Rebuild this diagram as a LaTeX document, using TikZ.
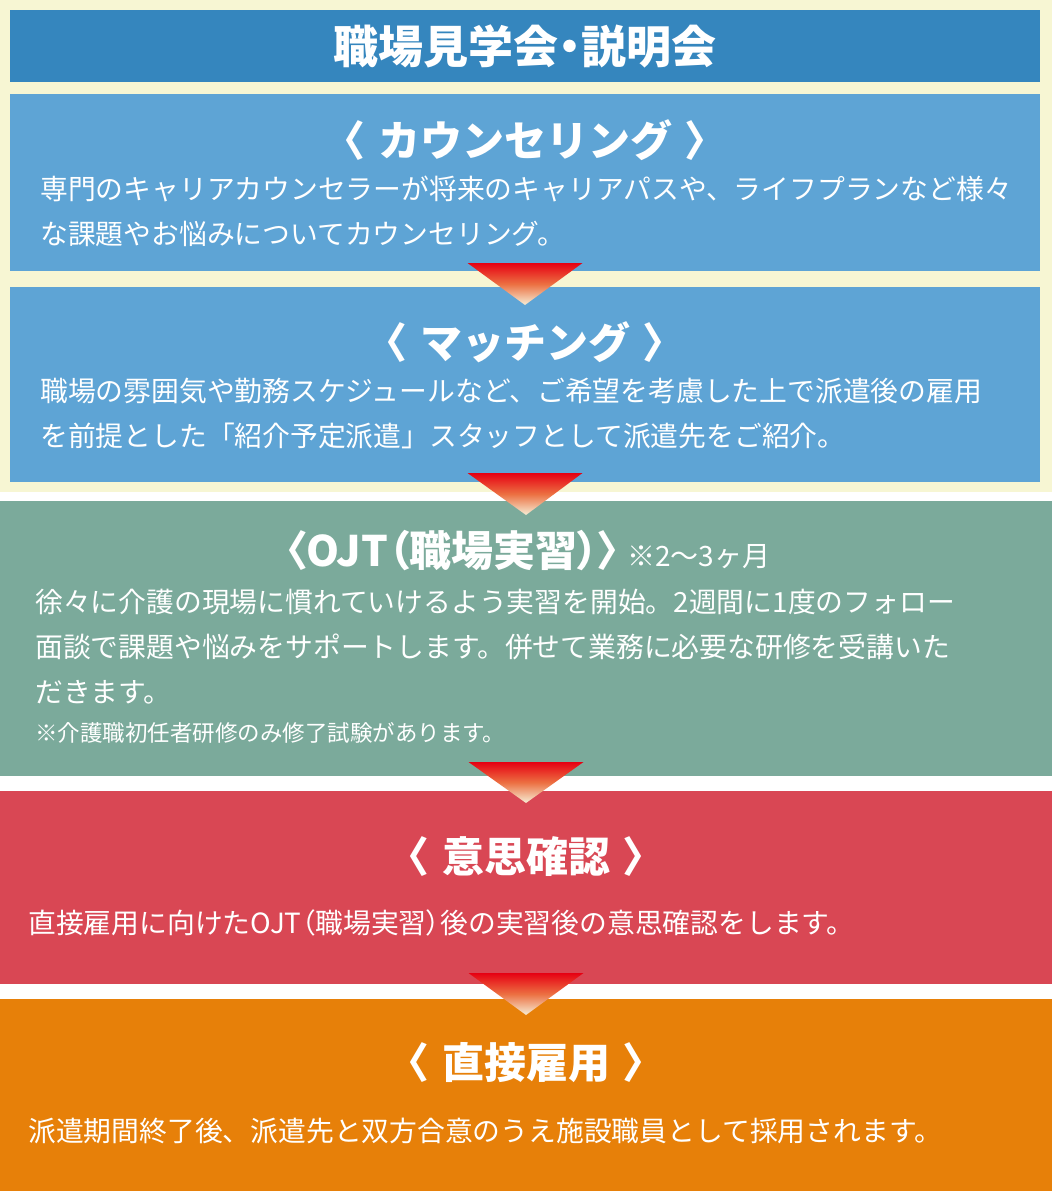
\documentclass[tikz,border=0pt]{standalone}
\usepackage{fontspec}
\newfontfamily\jpfont{Noto Sans CJK JP}
\newfontfamily\jpprop{Noto Sans CJK JP}[RawFeature={+palt}]
\usetikzlibrary{positioning, calc}
\definecolor{frameCream}{RGB}{247,246,211}
\definecolor{headBlue}{RGB}{53,134,190}
\definecolor{stepBlue}{RGB}{94,164,213}
\definecolor{ojtGreen}{RGB}{123,170,155}
\definecolor{intentRed}{RGB}{217,71,84}
\definecolor{hireOrange}{RGB}{231,128,9}
\definecolor{arrowRed}{RGB}{230,0,18}
\definecolor{arrowMid}{RGB}{236,112,66}
\definecolor{arrowPale}{RGB}{246,238,214}

\begin{document}
\begin{tikzpicture}[x=1pt, y=-1pt,
	% Styles for the panels, the texts and the arrows
	panel/.style={rectangle, inner sep=0pt, outer sep=0pt, minimum width=1030pt},
	wide/.style={panel, minimum width=1052pt},
	heading/.style={text=white, inner sep=0pt, font=\jpfont\bfseries\fontsize{42}{50}\selectfont},
	body/.style={text=white, align=left, anchor=west, inner sep=0pt, font=\jpfont\fontsize{27.8}{45}\selectfont},
	note/.style={body, font=\jpfont\fontsize{22.5}{30}\selectfont},
	flowarrow/.style={top color=arrowRed, bottom color=arrowPale, middle color=arrowMid}
	]
	\useasboundingbox (0,0) rectangle (1052,1191);
	
	% === PANELS ===
	\node[panel, minimum width=1052pt, minimum height=492pt, fill=frameCream, anchor=north west] (frame) at (0,0) {};
	\node[panel, minimum height=72pt, fill=headBlue, anchor=north, heading, font=\jpprop\bfseries\fontsize{45}{50}\selectfont] (head) at (525,10) {職場見学会・説明会};
	\node[panel, minimum height=177pt, fill=stepBlue, below=12pt of head] (counsel) {};
	\node[panel, minimum height=195pt, fill=stepBlue, below=16pt of counsel] (matching) {};
	\node[wide, minimum height=275pt, fill=ojtGreen, anchor=north] (ojt) at (526,501) {};
	\node[wide, minimum height=193pt, fill=intentRed, below=15pt of ojt] (intent) {};
	\node[wide, minimum height=192pt, fill=hireOrange, below=15pt of intent] (hire) {};
	
	% === ARROWS ===
	\foreach \from/\to/\up/\down in {counsel/matching/8/18, matching/ojt/9/14, ojt/intent/14/12, intent/hire/11/16}
		\shade[flowarrow] ($(\from.south)+(-57.5,-\up)$) -- ($(\from.south)+(57.5,-\up)$) -- ($(\to.north)+(0,\down)$) -- cycle;
	
	% === TEXTS ===
	\node[heading] (counselTitle) at (525,140) {〈\hspace{0.3em}カウンセリング\hspace{0.3em}〉};
	\node[body] (counselText) at (40,211.5) {専門のキャリアカウンセラーが将来のキャリアパスや、ライフプランなど様々\\な課題やお悩みについてカウンセリング。};
	
	\node[heading] (matchingTitle) at (525,342) {〈\hspace{0.3em}マッチング\hspace{0.3em}〉};
	\node[body] (matchingText) at (40,413.5) {職場の雰囲気や勤務スケジュールなど、ご希望を考慮した上で派遣後の雇用\\を前提とした「紹介予定派遣」スタッフとして派遣先をご紹介。};
	
	\node[heading] (ojtTitle) at (528,551) {\jpprop\bfseries 〈OJT（職場実習）〉\hspace{8pt}{\jpfont\mdseries\fontsize{28}{34}\selectfont ※2〜3ヶ月}};
	\node[body] (ojtText) at (35,647) {徐々に介護の現場に慣れていけるよう実習を開始。2週間に1度のフォロー\\面談で課題や悩みをサポートします。併せて業務に必要な研修を受講いた\\だきます。};
	\node[note] (ojtNote) at (35,733) {※介護職初任者研修のみ修了試験があります。};
	
	\node[heading] (intentTitle) at (526,857) {〈\hspace{0.3em}意思確認\hspace{0.3em}〉};
	\node[body] (intentText) at (28,923) {直接雇用に向けたOJT{\jpprop （}職場実習{\jpprop ）}後の実習後の意思確認をします。};
	
	\node[heading] (hireTitle) at (526,1063) {〈\hspace{0.3em}直接雇用\hspace{0.3em}〉};
	\node[body] (hireText) at (28,1131) {派遣期間終了後、派遣先と双方合意のうえ施設職員として採用されます。};
\end{tikzpicture}
\end{document}
